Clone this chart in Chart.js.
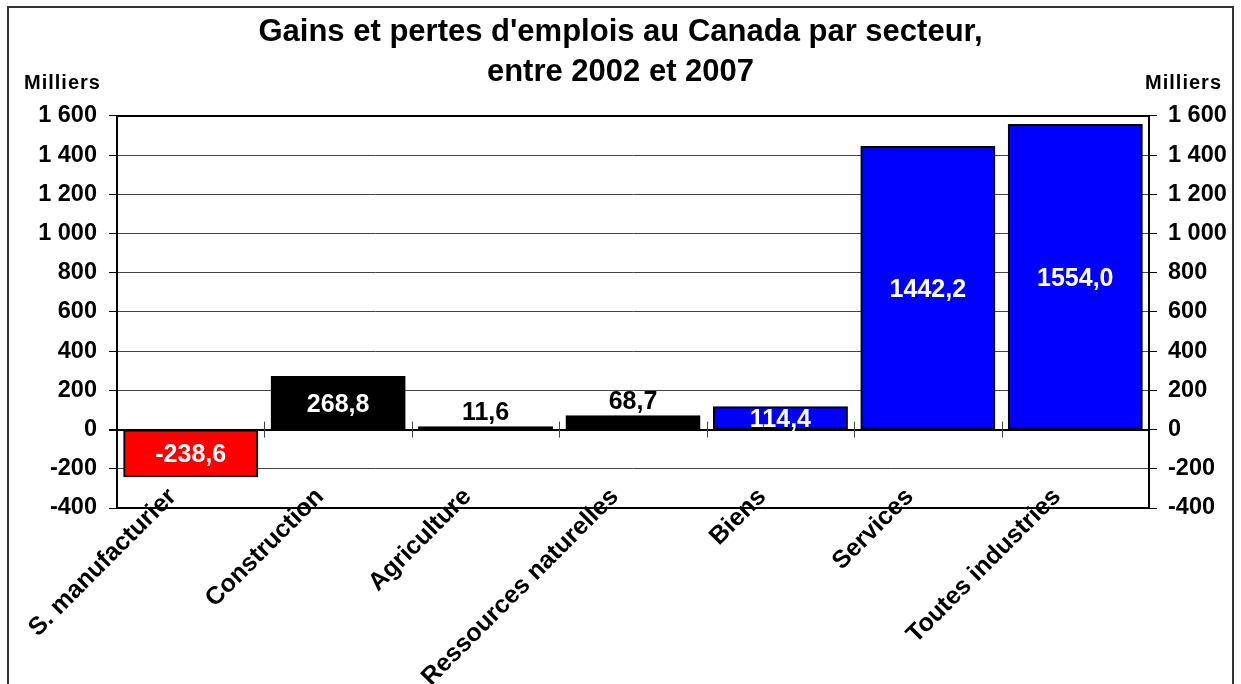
<!DOCTYPE html>
<html>
<head>
<meta charset="utf-8">
<script src="https://cdn.jsdelivr.net/npm/chart.js@4"></script>
<style>
    html, body { margin: 0; padding: 0; background: #fff; }
    canvas { display: block; }
</style>
</head>
<body>
<canvas id="myBarChart" width="1241" height="684"></canvas>
<script>
const categories = ['S. manufacturier', 'Construction', 'Agriculture', 'Ressources naturelles', 'Biens', 'Services', 'Toutes industries'];
const gains = [-238.6, 268.8, 11.6, 68.7, 114.4, 1442.2, 1554.0];
const barColors = ['#FF0000', '#000000', '#000000', '#000000', '#0000FF', '#0000FF', '#0000FF'];
const yMin = -400;
const yMax = 1600;
const yStep = 200;
const chartTitle = ["Gains et pertes d'emplois au Canada par secteur,", 'entre 2002 et 2007'];
const unitLabel = 'Milliers';

const FONT = '"Liberation Sans", Arial, sans-serif';

// thousands with a plain space, like "1 600"
function fmtTick(value) {
    return String(value).replace(/\B(?=(\d{3})+(?!\d))/g, ' ');
}

// one decimal with a comma, like "1442,2"
function fmtValue(value) {
    return value.toFixed(1).replace('.', ',');
}

const framePlugin = { // white background, outer frame and "Milliers" labels
    id: 'framePlugin',
    beforeDraw: function(chart) {
        const ctx = chart.ctx;
        ctx.save();
        ctx.fillStyle = '#fff';
        ctx.fillRect(0, 0, chart.width, chart.height);
        ctx.restore();
    },
    afterDraw: function(chart) {
        const ctx = chart.ctx;
        ctx.save();
        ctx.strokeStyle = '#333';
        ctx.lineWidth = 2;
        ctx.strokeRect(8, 7, chart.width - 16, chart.height + 20);

        ctx.fillStyle = '#000';
        ctx.font = 'bold 20px ' + FONT;
        ctx.letterSpacing = '1px';
        ctx.textBaseline = 'alphabetic';
        ctx.textAlign = 'left';
        ctx.fillText(unitLabel, 24, 89);
        ctx.textAlign = 'right';
        ctx.fillText(unitLabel, 1222, 89);
        ctx.restore();
    }
};

const barExtrasPlugin = { // plot frame, category ticks on the zero line, value labels
    id: 'barExtrasPlugin',
    afterDatasetsDraw: function(chart) {
        const ctx = chart.ctx;
        const area = chart.chartArea;
        const xScale = chart.scales.x;
        const yScale = chart.scales.y;
        const zeroY = yScale.getPixelForValue(0);

        ctx.save();
        // small ticks between categories on the zero line
        ctx.strokeStyle = '#444';
        ctx.lineWidth = 1;
        for (let i = 1; i < categories.length; i++) {
            const bx = Math.round((xScale.getPixelForValue(i - 1) + xScale.getPixelForValue(i)) / 2) + 0.5;
            ctx.beginPath();
            ctx.moveTo(bx, zeroY - 8);
            ctx.lineTo(bx, zeroY + 8);
            ctx.stroke();
        }

        // plot frame
        ctx.strokeStyle = '#000';
        ctx.lineWidth = 2;
        ctx.strokeRect(area.left, area.top, area.right - area.left, area.bottom - area.top);

        // value labels
        ctx.font = 'bold 25px ' + FONT;
        ctx.textAlign = 'center';
        ctx.textBaseline = 'alphabetic';
        const meta = chart.getDatasetMeta(0);
        meta.data.forEach((bar, i) => {
            const top = Math.min(bar.y, bar.base);
            const h = Math.abs(bar.base - bar.y);
            let cy;
            if (h > 18) {
                ctx.fillStyle = '#fff';
                cy = (bar.y + bar.base) / 2;
            } else {
                ctx.fillStyle = '#000';
                cy = top - 16.5;
            }
            ctx.fillText(fmtValue(gains[i]), bar.x, cy + 9);
        });
        ctx.restore();
    }
};

const ctx = document.getElementById('myBarChart').getContext('2d');

const chartData = {
    labels: categories,
    datasets: [{
        label: 'Milliers',
        data: gains,
        backgroundColor: barColors,
        borderColor: '#000',
        borderWidth: 2,
        borderSkipped: false,
        inflateAmount: 1,
        barPercentage: 0.902,
        categoryPercentage: 1.0
    }]
};

const config = {
    type: 'bar',
    data: chartData,
    options: {
        responsive: false,
        animation: false,
        layout: { padding: 0 },
        plugins: {
            legend: { display: false },
            tooltip: { enabled: false },
            title: {
                display: true,
                text: chartTitle,
                color: '#000',
                font: { family: FONT, size: 31, weight: 'bold', lineHeight: 1.274 },
                padding: { top: 13, bottom: 24 }
            }
        },
        scales: {
            x: {
                offset: true,
                grid: { display: false, drawTicks: false },
                border: { display: false },
                ticks: {
                    color: '#000',
                    font: { family: FONT, size: 25, weight: 'bold' },
                    minRotation: 45,
                    maxRotation: 45,
                    autoSkip: false,
                    mirror: true, // keeps the labels from being clipped at the plot edge
                    padding: 4.5,
                    labelOffset: 3
                },
                afterFit: function(scale) { scale.height = 176; }
            },
            y: {
                position: 'left',
                min: yMin,
                max: yMax,
                ticks: {
                    stepSize: yStep,
                    color: '#000',
                    padding: 12,
                    font: { family: FONT, size: 23.5, weight: 'bold' },
                    callback: fmtTick
                },
                grid: {
                    color: c => (c.tick && c.tick.value === 0) ? '#000' : '#444',
                    lineWidth: c => (c.tick && c.tick.value === 0) ? 2 : 1,
                    tickColor: '#000',
                    tickLength: 8
                },
                border: { color: '#000', width: 2 },
                afterFit: function(scale) { scale.width = 117; }
            },
            y2: {
                position: 'right',
                min: yMin,
                max: yMax,
                ticks: {
                    stepSize: yStep,
                    color: '#000',
                    padding: 11,
                    font: { family: FONT, size: 23.5, weight: 'bold' },
                    callback: fmtTick
                },
                grid: {
                    drawOnChartArea: false,
                    tickColor: '#000',
                    tickLength: 8
                },
                border: { color: '#000', width: 2 },
                afterFit: function(scale) { scale.width = 92; }
            }
        }
    },
    plugins: [framePlugin, barExtrasPlugin]
};

const myBarChart = new Chart(ctx, config);
</script>
</body>
</html>
